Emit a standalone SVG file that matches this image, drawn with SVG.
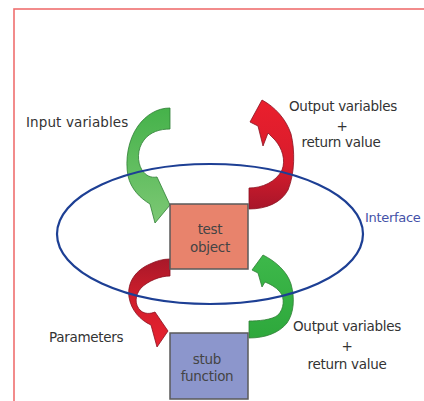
<svg xmlns="http://www.w3.org/2000/svg" width="424" height="401" viewBox="0 0 424 401">
<style>
.lbl{font-family:"DejaVu Sans","Liberation Sans",sans-serif;font-size:13.5px;fill:#333333;letter-spacing:-0.3px}
.box{stroke:#5a5a5a;stroke-width:1.5}
.boxt{font-family:"DejaVu Sans","Liberation Sans",sans-serif;font-size:13.5px;fill:#444444;text-anchor:middle;letter-spacing:-0.3px}
.arr{stroke-width:0.8;stroke-linejoin:round}
</style>
<defs>
<linearGradient id="g1" x1="0" y1="0" x2="0" y2="1"><stop offset="0" stop-color="#45b24a"/><stop offset="1" stop-color="#7cc874"/></linearGradient>
<linearGradient id="r2" x1="0" y1="0" x2="0" y2="1"><stop offset="0" stop-color="#ea1f2d"/><stop offset="0.6" stop-color="#d81c2c"/><stop offset="1" stop-color="#a8162a"/></linearGradient>
<linearGradient id="r3" x1="0" y1="0" x2="0" y2="1"><stop offset="0" stop-color="#a81829"/><stop offset="0.45" stop-color="#d01e2c"/><stop offset="1" stop-color="#e8222f"/></linearGradient>
<linearGradient id="g4" x1="0" y1="0" x2="0" y2="1"><stop offset="0" stop-color="#3db84a"/><stop offset="1" stop-color="#2ea83c"/></linearGradient>
</defs>
<rect x="0" y="0" width="424" height="401" fill="#ffffff"/>
<rect x="14" y="9" width="430" height="410" fill="none" stroke="#ef6f6f" stroke-width="1.6"/>
<g id="connectors">
<path id="arrow-input" class="arr" fill="url(#g1)" stroke="#2f7f35" d="M170,108 L170,129 C160,129 150,132 144,140 C137,149 137,162 142,170 C146,176 151,178 157,177 L170,205 L155,223 L150,204 C140,198 131,189 128,176 C125,160 128,140 138,126 C146,115 157,108 170,108 Z"/>
<path id="arrow-output" class="arr" fill="url(#r2)" stroke="#8a1020" d="M249,188 C262,188 276,182 282,170 C286,160 282,148 275,140 C272,137 270,135 268,133 L263,146 L258,126 L250,122 L262,100 C275,107 286,119 291,134 C295,150 295,173 288,190 C281,203 266,209 249,209 Z"/>
<path id="arrow-params" class="arr" fill="url(#r3)" stroke="#8a1020" d="M170,259 L170,276 C160,276 148,281 141,288 C135,295 134,305 141,311 C145,314 150,314 155,312 L168,331 L157,347 L151,325 C140,320 131,310 129,297 C127,282 136,270 150,264 C156,261 163,259 170,259 Z"/>
<path id="arrow-stub-output" class="arr" fill="url(#g4)" stroke="#2f7f35" d="M249,321 C258,321 272,320 278,315 C284,309 285,298 280,292 C276,287 270,284 265,282 L262,287 L258,273 L252,270 L263,255 C275,261 287,271 291,284 C295,298 294,313 287,323 C279,333 265,338 249,338 Z"/>
</g>
<g id="test-object">
<rect class="box" x="170" y="204" width="78" height="65" fill="#e8836c"/>
<text class="boxt" x="210" y="234">test</text>
<text class="boxt" x="210" y="252">object</text>
</g>
<g id="stub-function">
<rect class="box" x="170" y="333" width="78" height="66" fill="#8c96cc"/>
<text class="boxt" x="207" y="364">stub</text>
<text class="boxt" x="207" y="381">function</text>
</g>
<g id="interface">
<ellipse cx="210" cy="234" rx="153" ry="70" fill="none" stroke="#1d3f94" stroke-width="2.2"/>
<text x="365" y="222" font-family="DejaVu Sans, Liberation Sans, sans-serif" font-size="13px" fill="#4452a8" letter-spacing="-0.3">Interface</text>
</g>
<g id="labels">
<text class="lbl" x="26" y="127" textLength="102" lengthAdjust="spacing">Input variables</text>
<text class="lbl" x="343" y="111" text-anchor="middle">Output variables</text>
<text class="lbl" x="342" y="131" text-anchor="middle">+</text>
<text class="lbl" x="341" y="147" text-anchor="middle">return value</text>
<text class="lbl" x="49" y="342">Parameters</text>
<text class="lbl" x="347" y="331" text-anchor="middle">Output variables</text>
<text class="lbl" x="347" y="351" text-anchor="middle">+</text>
<text class="lbl" x="347" y="369" text-anchor="middle">return value</text>
</g>
</svg>
